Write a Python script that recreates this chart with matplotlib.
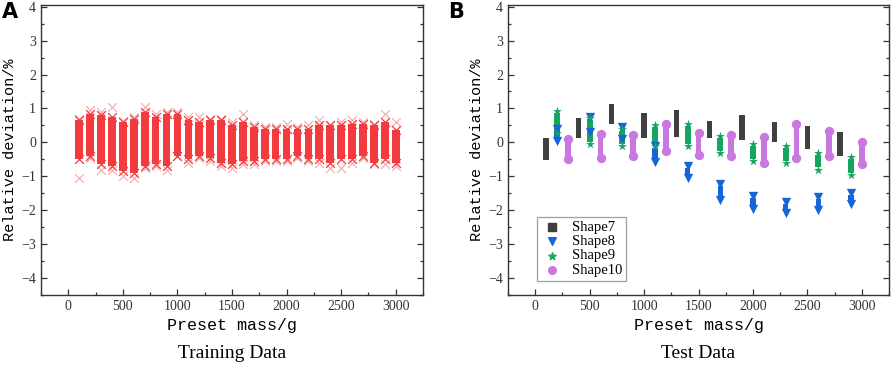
import numpy as np
import matplotlib
matplotlib.use("Agg")
import matplotlib.pyplot as plt
from matplotlib.ticker import MultipleLocator

# ---- data ----
# panel A: training data, one column of points per preset mass
mass_train = [100, 200, 300, 400, 500, 600, 700, 800, 900, 1000,
              1100, 1200, 1300, 1400, 1500, 1600, 1700, 1800, 1900, 2000,
              2100, 2200, 2300, 2400, 2500, 2600, 2700, 2800, 2900, 3000]
train_hi = [0.65, 0.85, 0.80, 0.75, 0.60, 0.70, 0.90, 0.75, 0.85, 0.85,
            0.65, 0.60, 0.65, 0.65, 0.50, 0.60, 0.45, 0.40, 0.40, 0.40,
            0.40, 0.40, 0.50, 0.50, 0.50, 0.55, 0.55, 0.50, 0.60, 0.35]
train_lo = [-0.50, -0.40, -0.65, -0.70, -0.85, -0.90, -0.70, -0.65, -0.70, -0.40,
            -0.50, -0.40, -0.45, -0.60, -0.65, -0.55, -0.55, -0.50, -0.50, -0.50,
            -0.40, -0.50, -0.50, -0.60, -0.50, -0.50, -0.40, -0.60, -0.50, -0.60]
train_max = [0.68, 0.95, 0.90, 1.05, 0.62, 0.75, 1.05, 0.85, 0.90, 0.90,
             0.75, 0.75, 0.70, 0.70, 0.60, 0.85, 0.50, 0.45, 0.45, 0.55,
             0.45, 0.50, 0.65, 0.50, 0.60, 0.65, 0.60, 0.55, 0.85, 0.60]
train_min = [-1.05, -0.45, -0.80, -0.80, -1.00, -1.05, -0.75, -0.70, -0.80, -0.40,
             -0.60, -0.45, -0.55, -0.70, -0.75, -0.65, -0.65, -0.55, -0.55, -0.55,
             -0.45, -0.55, -0.60, -0.75, -0.75, -0.60, -0.45, -0.65, -0.65, -0.70]

# panel B: test data, range of relative deviation per shape and mass
mass7 = [100, 400, 700, 1000, 1300, 1600, 1900, 2200, 2500, 2800]
s7_hi = [0.14, 0.72, 1.13, 0.87, 0.95, 0.64, 0.82, 0.59, 0.49, 0.30]
s7_lo = [-0.52, 0.12, 0.54, 0.14, 0.16, 0.12, 0.08, 0.00, -0.21, -0.39]

mass8 = [200, 500, 800, 1100, 1400, 1700, 2000, 2300, 2600, 2900]
s8_hi = [0.40, 0.76, 0.46, -0.10, -0.70, -1.22, -1.58, -1.75, -1.62, -1.50]
s8_lo = [0.05, 0.30, 0.10, -0.58, -1.06, -1.70, -1.97, -2.07, -1.98, -1.83]

mass9 = [200, 500, 800, 1100, 1400, 1700, 2000, 2300, 2600, 2900]
s9_hi = [0.92, 0.72, 0.40, 0.50, 0.55, 0.18, -0.04, -0.12, -0.30, -0.42]
s9_lo = [0.28, -0.06, -0.12, -0.12, -0.12, -0.32, -0.55, -0.62, -0.80, -0.96]

mass10 = [300, 600, 900, 1200, 1500, 1800, 2100, 2400, 2700, 3000]
s10_hi = [0.10, 0.25, 0.23, 0.55, 0.29, 0.23, 0.15, 0.54, 0.33, 0.02]
s10_lo = [-0.48, -0.46, -0.41, -0.26, -0.36, -0.39, -0.60, -0.46, -0.41, -0.65]

c_red = "#F23B3E"
c7 = "#404040"
c8 = "#1565D8"
c9 = "#16A461"
c10 = "#C878E0"

serif = "Liberation Serif"
mono = "Liberation Mono"

fig = plt.figure(figsize=(8.92, 3.66), dpi=100)
axA = fig.add_axes([41 / 892, 71 / 366, 382 / 892, 290 / 366])
axB = fig.add_axes([508 / 892, 71 / 366, 381 / 892, 290 / 366])


def style_axes(ax):
    ax.set_xlim(-250, 3250)
    ax.set_ylim(-4.5, 4.05)
    ax.xaxis.set_major_locator(MultipleLocator(500))
    ax.xaxis.set_minor_locator(MultipleLocator(250))
    ax.yaxis.set_major_locator(MultipleLocator(1))
    ax.yaxis.set_minor_locator(MultipleLocator(0.5))
    ax.tick_params(which="both", direction="in", left=True, right=True,
                   top=False, bottom=True, colors="#333333",
                   labelsize=10, width=0.9)
    ax.tick_params(which="major", length=4)
    ax.tick_params(which="minor", length=2.5)
    for lab in ax.get_xticklabels() + ax.get_yticklabels():
        lab.set_family(serif)
        lab.set_color("#333333")
    for sp in ax.spines.values():
        sp.set_color("#333333")
        sp.set_linewidth(1.0)
    ax.set_xlabel("Preset mass/g", family=mono, fontsize=12, labelpad=4)
    ax.set_ylabel("Relative deviation/%", family=mono, fontsize=11, labelpad=3)


# panel A
mt = np.array(mass_train)
axA.bar(mt, np.array(train_hi) - np.array(train_lo), bottom=train_lo,
        width=70, color=c_red, linewidth=0, zorder=2)
axA.scatter(mt, train_hi, marker="x", s=40, color=c_red, linewidths=0.9, zorder=3)
axA.scatter(mt, train_lo, marker="x", s=40, color=c_red, linewidths=0.9, zorder=3)
axA.scatter(mt, train_max, marker="x", s=40, color=c_red, alpha=0.45,
            linewidths=0.8, zorder=3)
axA.scatter(mt, train_min, marker="x", s=40, color=c_red, alpha=0.45,
            linewidths=0.8, zorder=3)
style_axes(axA)
axA.text(0.5, -0.2, "Training Data", transform=axA.transAxes, ha="center",
         va="center", family=serif, fontsize=14)
fig.text(2 / 892, 1 - 2 / 366, "A", ha="left", va="top", fontsize=15,
         fontweight="bold", family="DejaVu Sans")

# panel B
series = [
    ("Shape7", mass7, s7_lo, s7_hi, c7, "s", 50),
    ("Shape8", mass8, s8_lo, s8_hi, c8, "v", 50),
    ("Shape9", mass9, s9_lo, s9_hi, c9, "*", 55),
    ("Shape10", mass10, s10_lo, s10_hi, c10, "o", 50),
]
for name, m, lo, hi, col, mk, w in series:
    m = np.array(m)
    lo = np.array(lo)
    hi = np.array(hi)
    if mk == "s":
        axB.bar(m, hi - lo, bottom=lo, width=w, color=col, linewidth=0, zorder=2)
    else:
        pad = 0.06
        axB.bar(m, (hi - pad) - (lo + pad), bottom=lo + pad, width=w,
                color=col, linewidth=0, zorder=2)
        axB.scatter(m, hi, marker=mk, s=45, color=col, linewidths=0, zorder=3)
        axB.scatter(m, lo, marker=mk, s=45, color=col, linewidths=0, zorder=3)
    axB.scatter([], [], marker=mk, s=30, color=col, label=name)

style_axes(axB)
leg = axB.legend(loc="lower left", bbox_to_anchor=(0.075, 0.05),
                 prop={"family": serif, "size": 10.5}, frameon=True,
                 fancybox=False, handletextpad=0.6, borderpad=0.25,
                 labelspacing=0.08, handlelength=1.6, borderaxespad=0)
leg.get_frame().set_edgecolor("#888888")
leg.get_frame().set_linewidth(0.9)
axB.text(0.5, -0.2, "Test Data", transform=axB.transAxes, ha="center",
         va="center", family=serif, fontsize=14)
fig.text(448 / 892, 1 - 2 / 366, "B", ha="left", va="top", fontsize=15,
         fontweight="bold", family="DejaVu Sans")

fig.savefig("out.png", dpi=100)
